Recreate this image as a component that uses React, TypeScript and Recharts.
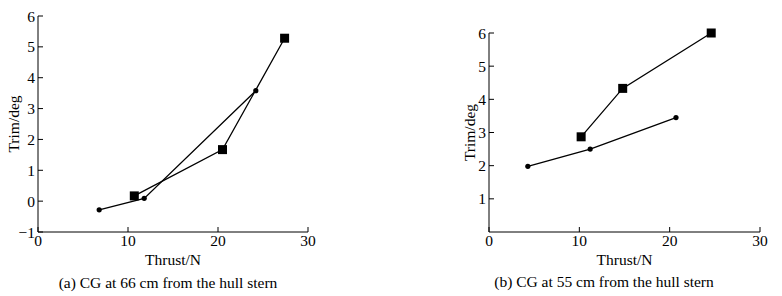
import React from "react";
import { LineChart, Line, XAxis, YAxis } from "recharts";

// (a) CG at 66 cm
const aSquareThrust = [10.7, 20.5, 27.4];
const aSquareTrim = [0.17, 1.67, 5.28];
const aCircleThrust = [6.8, 11.8, 24.2];
const aCircleTrim = [-0.28, 0.09, 3.58];

// (b) CG at 55 cm
const bSquareThrust = [10.2, 14.8, 24.6];
const bSquareTrim = [2.87, 4.33, 6.0];
const bCircleThrust = [4.3, 11.2, 20.7];
const bCircleTrim = [1.98, 2.5, 3.45];

const xTicks = [0, 10, 20, 30];
const aYTicks = [-1, 0, 1, 2, 3, 4, 5, 6];
const bYTicks = [1, 2, 3, 4, 5, 6];

const FONT = '"Liberation Serif", "DejaVu Serif", serif';
const FS = 15.5;

const toPoints = (xs: number[], ys: number[]) =>
  xs.map((x, i) => ({ thrust: x, trim: ys[i] }));

const fmt = (v: number) => String(v).replace("-", "\u2212");

const SquareDot = (p: any) => (
  <rect x={p.cx - 4.5} y={p.cy - 4.5} width={9} height={9} fill="#000" />
);
const CircleDot = (p: any) => <circle cx={p.cx} cy={p.cy} r={2.6} fill="#000" />;

type PanelProps = {
  width: number;
  top: number;
  yAxisWidth: number;
  yDomain: [number, number];
  yTicks: number[];
  squares: { thrust: number; trim: number }[];
  circles: { thrust: number; trim: number }[];
  labelX: number;
};

function Panel({ width, top, yAxisWidth, yDomain, yTicks, squares, circles, labelX }: PanelProps) {
  const tickStyle = { fill: "#000", fontSize: FS, fontFamily: FONT };
  return (
    <LineChart
      width={width}
      height={296}
      margin={{ top, right: 22, left: 0, bottom: 34 }}
    >
      <XAxis
        type="number"
        dataKey="thrust"
        domain={[0, 30]}
        ticks={xTicks}
        stroke="#000"
        tickSize={-5}
        tickMargin={8}
        tick={tickStyle}
        height={30}
        label={{
          value: "Thrust/N",
          position: "insideBottom",
          offset: -3,
          style: { fill: "#000", fontSize: FS, fontFamily: FONT },
        }}
      />
      <YAxis
        type="number"
        dataKey="trim"
        domain={yDomain}
        ticks={yTicks}
        stroke="#000"
        tickSize={-5}
        tickMargin={8}
        tick={tickStyle}
        tickFormatter={fmt}
        width={yAxisWidth}
        label={{
          content: (lp: any) => {
            const vb = lp.viewBox;
            const cx = vb.x + labelX;
            const cy = vb.y + vb.height / 2;
            return (
              <text
                x={cx}
                y={cy}
                transform={`rotate(-90 ${cx} ${cy})`}
                textAnchor="middle"
                dominantBaseline="central"
                fill="#000"
                fontSize={FS}
                fontFamily={FONT}
              >
                Trim/deg
              </text>
            );
          },
        }}
      />
      <Line
        data={squares}
        dataKey="trim"
        stroke="#000"
        strokeWidth={1.3}
        dot={<SquareDot />}
        activeDot={false}
        isAnimationActive={false}
      />
      <Line
        data={circles}
        dataKey="trim"
        stroke="#000"
        strokeWidth={1.3}
        dot={<CircleDot />}
        activeDot={false}
        isAnimationActive={false}
      />
    </LineChart>
  );
}

const captionStyle: React.CSSProperties = {
  position: "absolute",
  fontFamily: FONT,
  fontSize: FS,
  color: "#000",
  whiteSpace: "nowrap",
  transform: "translate(-50%, -50%)",
};

export default function App() {
  return (
    <div
      style={{
        position: "absolute",
        left: 0,
        top: 0,
        width: 782,
        height: 296,
        background: "#fff",
        overflow: "hidden",
      }}
    >
      <div style={{ position: "absolute", left: 0, top: 0 }}>
        <Panel
          width={330}
          top={16}
          yAxisWidth={38}
          yDomain={[-1, 6]}
          yTicks={aYTicks}
          squares={toPoints(aSquareThrust, aSquareTrim)}
          circles={toPoints(aCircleThrust, aCircleTrim)}
          labelX={13}
        />
      </div>
      <div style={{ position: "absolute", left: 440, top: 0 }}>
        <Panel
          width={342}
          top={33}
          yAxisWidth={49}
          yDomain={[0, 6]}
          yTicks={bYTicks}
          squares={toPoints(bSquareThrust, bSquareTrim)}
          circles={toPoints(bCircleThrust, bCircleTrim)}
          labelX={29}
        />
      </div>
      <div style={{ ...captionStyle, left: 168, top: 283 }}>
        (a) CG at 66 cm from the hull stern
      </div>
      <div style={{ ...captionStyle, left: 604, top: 282 }}>
        (b) CG at 55 cm from the hull stern
      </div>
    </div>
  );
}
